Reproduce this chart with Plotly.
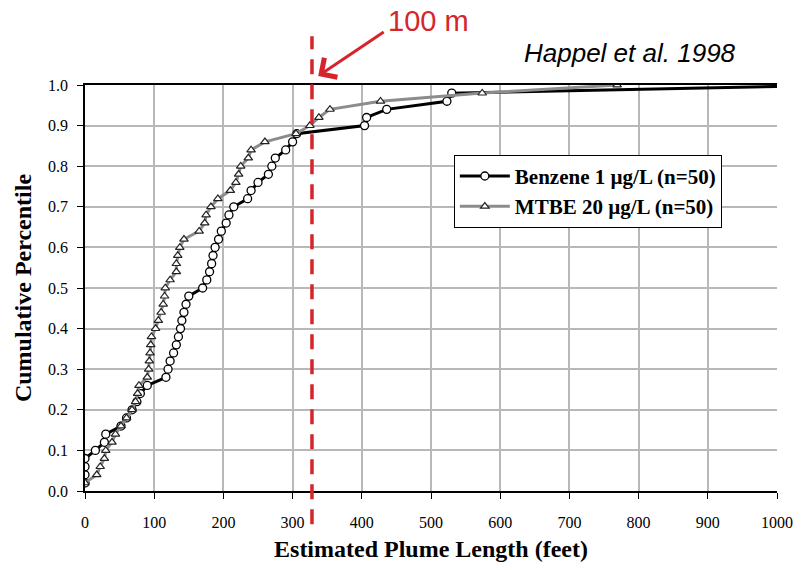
import plotly.graph_objects as go

percentile = [round(0.02 * (i + 1), 2) for i in range(50)]

benzene_ft = [0, 0, 0, 0, 15, 28, 30, 52, 60, 68,
              75, 80, 90, 117, 120, 123, 128, 132, 135, 138,
              140, 143, 146, 150, 170, 176, 180, 183, 185, 188,
              193, 197, 204, 208, 215, 235, 240, 250, 265, 270,
              275, 290, 300, 306, 404, 407, 436, 523, 530, 1100]

mtbe_ft = [0, 17, 22, 28, 30, 39, 44, 52, 60, 68,
           73, 76, 78, 90, 92, 93, 94, 95, 96, 102,
           106, 110, 113, 115, 116, 123, 132, 132, 134, 137,
           143, 165, 173, 175, 182, 192, 210, 218, 222, 225,
           236, 240, 260, 305, 325, 338, 354, 427, 574, 769]

x_ticks = [0, 100, 200, 300, 400, 500, 600, 700, 800, 900, 1000]
y_ticks = [0.0, 0.1, 0.2, 0.3, 0.4, 0.5, 0.6, 0.7, 0.8, 0.9, 1.0]
limit_ft = 328  # 100 m

serif = "Liberation Serif"
red = "#d5252b"

fig = go.Figure()
fig.add_trace(go.Scatter(
    x=benzene_ft, y=percentile, mode="lines+markers",
    name="Benzene 1 \u00b5g/L (n=50)",
    line=dict(color="black", width=3),
    marker=dict(symbol="circle", size=8, color="white",
                line=dict(color="black", width=1.3)),
))
fig.add_trace(go.Scatter(
    x=mtbe_ft, y=percentile, mode="lines+markers",
    name="MTBE 20 \u00b5g/L (n=50)",
    line=dict(color="#8c8c8c", width=3),
    marker=dict(symbol="triangle-up", size=7.5, color="white",
                line=dict(color="#222222", width=1.2)),
))

fig.add_shape(type="line", xref="x", yref="paper",
              x0=limit_ft, x1=limit_ft, y0=-0.082, y1=1.12,
              line=dict(color=red, width=3.5, dash="15px,10px"))

fig.add_annotation(x=337, y=1.022, xref="x", yref="paper",
                   ax=67, ay=-45, axref="pixel", ayref="pixel",
                   text="", showarrow=True, arrowhead=4, arrowsize=1.5,
                   arrowwidth=3, arrowcolor=red)
fig.add_annotation(x=497, y=1.158, xref="x", yref="paper",
                   xanchor="center", yanchor="middle",
                   text="100 m", showarrow=False,
                   font=dict(family="Liberation Sans", size=29, color=red))
fig.add_annotation(x=788, y=1.079, xref="x", yref="paper",
                   xanchor="center", yanchor="middle",
                   text="<i>Happel et al. 1998</i>", showarrow=False,
                   font=dict(family="Liberation Sans", size=26, color="black"))

fig.update_layout(
    width=805, height=570,
    margin=dict(l=85, r=22, t=85, b=78),
    paper_bgcolor="white", plot_bgcolor="white",
    showlegend=True,
    legend=dict(x=0.533, y=0.828, xanchor="left", yanchor="top",
                bgcolor="white", bordercolor="black", borderwidth=1,
                font=dict(family=serif, size=21, color="black", weight="bold"),
                itemwidth=50, tracegroupgap=2),
    xaxis=dict(range=[0, 1000], tickvals=x_ticks, showgrid=True,
               gridcolor="#b8b8b8", gridwidth=2,
               showline=True, linecolor="black", linewidth=1.5, mirror=True,
               ticks="outside", ticklen=6, tickcolor="black",
               ticklabelstandoff=10, zeroline=False,
               tickfont=dict(family=serif, size=16, color="black"),
               title=dict(text="<b>Estimated Plume Length (feet)</b>",
                          font=dict(family=serif, size=24, color="black"),
                          standoff=10)),
    yaxis=dict(range=[0, 1.0], tickvals=y_ticks, tickformat=".1f",
               showgrid=True, gridcolor="#b8b8b8", gridwidth=2,
               showline=True, linecolor="black", linewidth=1.5,
               ticks="outside", ticklen=6, tickcolor="black",
               ticklabelstandoff=6, zeroline=False,
               tickfont=dict(family=serif, size=16, color="black"),
               title=dict(text="<b>Cumulative Percentile</b>",
                          font=dict(family=serif, size=24, color="black"),
                          standoff=10)),
)

fig.write_html("out.html", config={"displayModeBar": False},
               post_script="document.body.style.margin='0px';")
